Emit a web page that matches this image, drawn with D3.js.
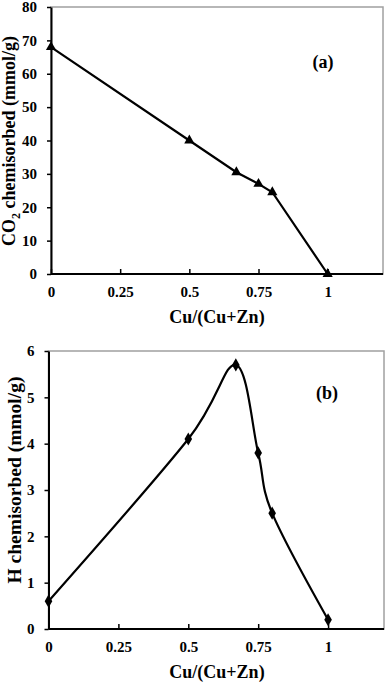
<!DOCTYPE html>
<html>
<head>
<meta charset="utf-8">
<script src="https://cdnjs.cloudflare.com/ajax/libs/d3/7.8.5/d3.min.js"></script>
<style>
  body { margin: 0; background: #fff; }
  svg text { font-family: "Liberation Serif", "Times New Roman", serif; font-weight: bold; fill: #000; }
</style>
</head>
<body>
<div id="chart"></div>
<script>
// data
var cuRatio  = [0, 0.5, 0.67, 0.75, 0.8, 1];
var co2Values = [68, 40, 30.5, 27, 24.5, 0];
var hValues   = [0.6, 4.1, 5.7, 3.8, 2.5, 0.2];

var xTicks   = [0, 0.25, 0.5, 0.75, 1];
var xTickLabels = ["0", "0.25", "0.5", "0.75", "1"];
var co2Ticks = [0, 10, 20, 30, 40, 50, 60, 70, 80];
var hTicks   = [0, 1, 2, 3, 4, 5, 6];

var svg = d3.select("#chart").append("svg")
    .attr("width", 387)
    .attr("height", 682);

var drawPanel = function(opts) {
  var x = d3.scaleLinear().domain([0, 1.2]).range([opts.left, opts.right]);
  var y = d3.scaleLinear().domain([0, opts.yMax]).range([opts.bottom, opts.top]);

  var g = svg.append("g");

  // plot area frame (grey top/right)
  g.append("rect")
    .attr("x", opts.left).attr("y", opts.top)
    .attr("width", opts.right - opts.left).attr("height", opts.bottom - opts.top)
    .attr("fill", "none").attr("stroke", "#a0a0a0").attr("stroke-width", 1.5);

  // y axis
  var yAxis = g.append("g")
    .attr("transform", "translate(" + opts.left + ",0)")
    .call(d3.axisLeft(y).tickValues(opts.yTicks).tickFormat(d3.format("d"))
      .tickSize(4).tickPadding(10).tickSizeOuter(0));
  yAxis.select(".domain").attr("stroke", "#000").attr("stroke-width", 2);
  yAxis.selectAll(".tick line").attr("stroke", "#000").attr("stroke-width", 1.5);
  yAxis.selectAll("text").style("font-size", "15px").style("font-family", null);

  // x axis with inside ticks
  var xAxis = g.append("g")
    .attr("transform", "translate(0," + opts.bottom + ")")
    .call(d3.axisBottom(x).tickValues(xTicks)
      .tickFormat(function(d, i) { return xTickLabels[i]; })
      .tickSize(0).tickPadding(12).tickSizeOuter(0));
  xAxis.select(".domain").attr("stroke", "#000").attr("stroke-width", 2)
    .attr("d", "M" + opts.left + ",0H" + opts.right);
  xAxis.selectAll(".tick line").attr("y2", -5).attr("stroke", "#000").attr("stroke-width", 1.5);
  xAxis.selectAll("text").style("font-size", "15px").style("font-family", null);

  // x title
  g.append("text")
    .attr("x", 217)
    .attr("y", opts.bottom + 49)
    .attr("text-anchor", "middle")
    .style("font-size", "18px")
    .text("Cu/(Cu+Zn)");

  // y title
  var yt = g.append("text")
    .attr("transform", "translate(" + opts.yTitleX + "," + opts.yTitleY + ") rotate(-90)")
    .attr("text-anchor", "middle")
    .style("font-size", opts.yTitleSize);
  opts.yTitle(yt);

  // panel letter
  g.append("text")
    .attr("x", opts.letterX).attr("y", opts.letterY)
    .attr("text-anchor", "middle")
    .style("font-size", "18px")
    .text(opts.letter);

  var pts = cuRatio.map(function(d, i) { return [x(d), y(opts.values[i])]; });

  g.append("path")
    .attr("d", d3.line().curve(opts.curve)(pts))
    .attr("fill", "none").attr("stroke", "#000").attr("stroke-width", 2.2);

  g.selectAll(".mark")
    .data(pts)
    .enter().append("path")
      .attr("transform", function(d) { return "translate(" + d[0] + "," + d[1] + ")"; })
      .attr("d", d3.symbol().type(opts.symbol).size(opts.symbolSize))
      .attr("fill", "#000");
};

drawPanel({
  left: 51, right: 383, top: 7, bottom: 274,
  yMax: 80, yTicks: co2Ticks, values: co2Values,
  curve: d3.curveLinear, symbol: d3.symbolTriangle, symbolSize: 45,
  letter: "(a)", letterX: 323, letterY: 68,
  yTitleX: 15, yTitleY: 141, yTitleSize: "18px",
  yTitle: function(t) {
    t.append("tspan").text("CO");
    t.append("tspan").attr("dy", 5).style("font-size", "12px").text("2");
    t.append("tspan").attr("dy", -5).text(" chemisorbed (mmol/g)");
  }
});

drawPanel({
  left: 48.5, right: 384, top: 351, bottom: 629,
  yMax: 6, yTicks: hTicks, values: hValues,
  curve: d3.curveCardinal.tension(0), symbol: d3.symbolDiamond, symbolSize: 50,
  letter: "(b)", letterX: 327, letterY: 399,
  yTitleX: 21, yTitleY: 480, yTitleSize: "19.5px",
  yTitle: function(t) { t.text("H chemisorbed (mmol/g)"); }
});
</script>
</body>
</html>
